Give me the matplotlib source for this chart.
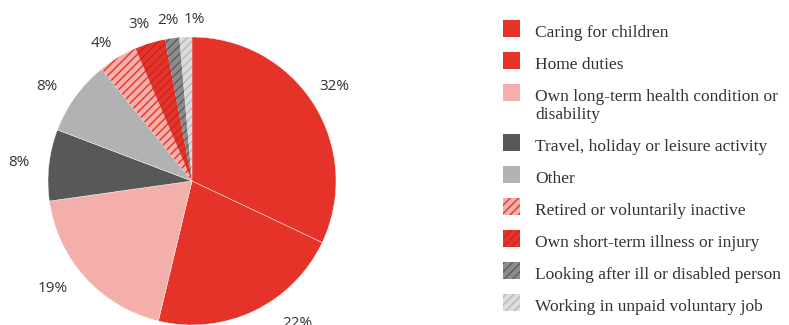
import matplotlib
matplotlib.use("Agg")
import matplotlib.pyplot as plt
from matplotlib.patches import Rectangle

# Reasons for economic inactivity (share of respondents, %)
categories = [
    "Caring for children",
    "Home duties",
    "Own long-term health condition or\ndisability",
    "Travel, holiday or leisure activity",
    "Other",
    "Retired or voluntarily inactive",
    "Own short-term illness or injury",
    "Looking after ill or disabled person",
    "Working in unpaid voluntary job",
]
shares = [32.0, 21.7, 19.0, 8.0, 8.4, 4.4, 3.4, 1.6, 1.4]
pct_labels = [f"{v:.0f}%" for v in shares]

face = ["#E5332A", "#E5332A", "#F4AFAB", "#585858", "#B2B2B2",
        "#F4AFAB", "#E5332A", "#8C8C8C", "#DCDCDC"]
stripe = [None, None, None, None, None,
          "#E5332A", "#C42720", "#5E5E5E", "#B8B8B8"]

# small hand nudges (pixels, right / down) so labels clear their neighbours
label_nudge = [(-2, -3), (31, -12), (-12, -8), (-3, 1), (-6, 6),
               (-2, 9), (-3, 7), (0, 9), (10, 10)]

plt.rcParams["hatch.linewidth"] = 1.0

W, H = 789, 325
fig = plt.figure(figsize=(W / 100, H / 100), dpi=100)

# pie placed in pixel terms: centre (192, 181), radius 144 px
R, cx, cy = 144, 192, 181
lim = 1.35
side = 2 * lim * R
ax = fig.add_axes([(cx - lim * R) / W, (H - cy - lim * R) / H, side / W, side / H])
wedges, texts = ax.pie(
    shares, startangle=90, counterclock=False, colors=face,
    labels=pct_labels, labeldistance=1.19,
    textprops=dict(fontsize=11, color="#333333", family="Open Sans"),
)
ax.set_xlim(-lim, lim)
ax.set_ylim(-lim, lim)
ax.set_aspect("equal")

for w, s in zip(wedges, stripe):
    if s:
        w.set_edgecolor(s)
        w.set_hatch("////")
        w.set_linewidth(0)
    else:
        w.set_edgecolor("white")
        w.set_linewidth(0.3)

for t, (dx, dy) in zip(texts, label_nudge):
    x, y = t.get_position()
    t.set_position((x + dx / R, y - dy / R))
    t.set_ha("center")
    t.set_va("center")

# legend drawn on an overlay in pixel coordinates
lg = fig.add_axes([0, 0, 1, 1])
lg.set_xlim(0, W)
lg.set_ylim(H, 0)
lg.axis("off")

top = 20
box_size = 17
line_gap = 18
for label, fc, sc in zip(categories, face, stripe):
    box = Rectangle((503, top), box_size, box_size, facecolor=fc,
                    edgecolor=sc if sc else "none", linewidth=0,
                    hatch="////" if sc else None)
    lg.add_patch(box)
    lines = label.split("\n")
    for i, line in enumerate(lines):
        lg.text(535, top + box_size + i * line_gap, line, fontsize=12.5,
                family="Liberation Serif", color="#333333",
                va="baseline", ha="left")
    top += 32 + line_gap * (len(lines) - 1)

fig.savefig("out.png", dpi=100)
